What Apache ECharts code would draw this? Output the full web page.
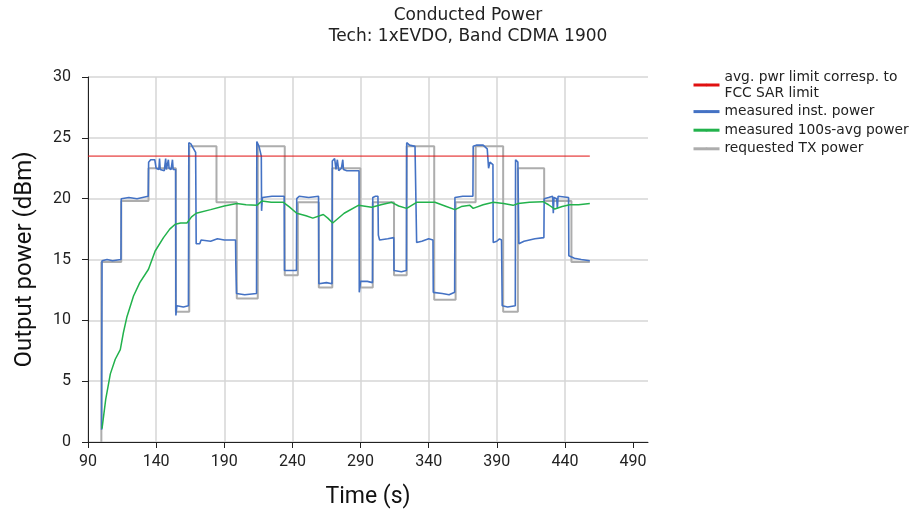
<!DOCTYPE html>
<html>
<head>
<meta charset="utf-8">
<script src="https://cdn.jsdelivr.net/npm/echarts@6/dist/echarts.min.js"></script>
<style>
html, body { margin: 0; padding: 0; background: #fff; }
#chart { width: 911px; height: 514px; }
</style>
</head>
<body>
<div id="chart"></div>
<script>
// tick labels
var xTicks = [90, 140, 190, 240, 290, 340, 390, 440, 490];

// avg. pwr limit
var limitPts = [[90, 23.5], [458.3, 23.5]];

// requested TX power (step)
var requested = [
    [99.8, 0], [99.8, 14.8], [114.4, 14.8], [114.4, 19.8], [134.4, 19.8], [134.4, 22.5],
    [154.5, 22.5], [154.5, 10.7], [164.3, 10.7], [164.3, 24.3], [184.3, 24.3], [184.3, 19.7],
    [199.2, 19.7], [199.2, 11.8], [214.6, 11.8], [214.6, 24.3], [234.4, 24.3], [234.4, 13.7],
    [244, 13.7], [244, 19.7], [259.4, 19.7], [259.4, 12.7], [269.3, 12.7], [269.3, 22.5],
    [289.9, 22.5], [289.9, 12.7], [299, 12.7], [299, 19.7], [314.6, 19.7], [314.6, 13.7],
    [323.9, 13.7], [323.9, 24.3], [344.1, 24.3], [344.1, 11.7], [359.8, 11.7], [359.8, 19.7],
    [374.5, 19.7], [374.5, 24.3], [394.7, 24.3], [394.7, 10.7], [405.5, 10.7], [405.5, 22.5],
    [424.8, 22.5], [424.8, 19.8], [444.8, 19.8], [444.8, 14.8], [458.3, 14.8]
];

// measured inst. power
var measured = [
    [100.0, 1.0], [100.3, 14.9], [104, 15.0], [108, 14.9], [114.2, 15.0], [114.4, 20.0],
    [120, 20.1], [126, 20.0], [130, 20.1], [134.2, 20.2], [134.5, 23.0], [136, 23.2],
    [139, 23.2], [140, 22.5], [142, 22.4], [142.5, 23.3], [143, 22.4], [146, 22.3],
    [147, 23.3], [147.5, 22.4], [149, 23.2], [149.5, 22.5], [151, 22.4], [152, 23.2],
    [152.5, 22.4], [154.3, 22.4], [154.5, 10.4], [155.2, 11.2], [160, 11.1], [163.7, 11.2],
    [164, 24.6], [165.5, 24.5], [167, 24.2], [169, 23.8], [169.4, 16.3], [172, 16.3],
    [173, 16.6], [180, 16.5], [185, 16.7], [190, 16.6], [198.3, 16.6], [198.5, 14.6],
    [199, 12.2], [205, 12.1], [213.7, 12.2], [213.9, 24.7], [215.5, 24.3], [217.2, 23.5],
    [217.4, 19.0], [218, 20.1], [225, 20.2], [234, 20.2], [234.2, 14.1], [240, 14.1],
    [243.0, 14.1], [243.2, 20.0], [245, 20.2], [252, 20.1], [259.2, 20.2], [259.4, 13.0],
    [265, 13.1], [269.1, 13.0], [269.3, 23.1], [271, 23.3], [272, 22.4], [273, 23.2],
    [274, 22.3], [276, 22.5], [277, 23.2], [277.5, 22.4], [280, 22.3], [285, 22.3],
    [288.9, 22.3], [289.1, 12.3], [290, 13.2], [295, 13.2], [298.8, 13.1], [299, 20.1],
    [301, 20.2], [302.8, 20.2], [303.1, 17.0], [304, 16.6], [310, 16.7], [314.4, 16.8],
    [314.6, 14.1], [320, 14.0], [323.7, 14.1], [323.9, 24.6], [326, 24.4], [330, 24.3],
    [331.0, 24.2], [331.2, 16.4], [335, 16.5], [340, 16.7], [343.2, 16.6], [343.4, 12.3],
    [350, 12.2], [355, 12.1], [359.1, 12.3], [359.3, 20.1], [365, 20.2], [372.5, 20.2],
    [372.7, 24.3], [375, 24.4], [380, 24.4], [383, 24.1], [384, 22.5], [385, 23.0],
    [387.2, 22.8], [387.4, 16.4], [390, 16.5], [392, 16.7], [393.5, 16.6], [394, 11.2],
    [398, 11.1], [403.6, 11.2], [403.8, 23.2], [405.5, 23.0], [406.2, 16.3], [410, 16.5],
    [418, 16.7], [424.6, 16.8], [424.8, 20.0], [428, 20.1], [431, 20.2], [431.5, 18.8],
    [432, 20.1], [434, 20.0], [434.5, 19.2], [435, 20.2], [442.7, 20.1], [442.9, 15.3],
    [447, 15.1], [452, 15.0], [458.3, 14.9]
];

// measured 100s-avg power
var average = [
    [100.3, 1.1], [103, 3.5], [106.4, 5.6], [110, 6.8], [113.7, 7.6], [116, 9.0],
    [118.6, 10.3], [123.4, 12.0], [128, 13.1], [134.4, 14.2], [139.3, 15.7], [145.4, 16.8],
    [150, 17.5], [154, 17.9], [158, 18.0], [162.6, 18.0], [166, 18.5], [169.4, 18.8],
    [180, 19.1], [190, 19.4], [199.2, 19.6], [206, 19.5], [213.9, 19.45], [217.6, 19.8],
    [224.5, 19.7], [233.4, 19.7], [238, 19.3], [243.2, 18.8], [250, 18.6], [255, 18.4],
    [262.7, 18.7], [266, 18.4], [269.6, 18.0], [278, 18.8], [288.4, 19.45], [298.2, 19.3],
    [305, 19.5], [312.9, 19.7], [318, 19.4], [323.9, 19.2], [331.2, 19.7], [338, 19.7],
    [344.6, 19.7], [352, 19.4], [359.3, 19.1], [364, 19.35], [370.3, 19.45], [372.7, 19.2],
    [380, 19.5], [387.4, 19.7], [395, 19.6], [402, 19.45], [405.7, 19.6], [414, 19.7],
    [424, 19.75], [428, 19.5], [432.6, 19.15], [438, 19.35], [443.6, 19.5], [450, 19.5],
    [458.3, 19.6]
];

var chart = echarts.init(document.getElementById('chart'));
var font = 'DejaVu Sans';
var axisFont = 'Roboto';

var option = {
    backgroundColor: '#fff',
    animation: false,
    title: {
        text: 'Conducted Power\nTech: 1xEVDO, Band CDMA 1900',
        left: 463,
        top: 0,
        textAlign: 'center',
        textStyle: {
            fontFamily: font,
            fontWeight: 'normal',
            fontSize: 17,
            lineHeight: 21,
            color: '#222'
        }
    },
    legend: {
        orient: 'vertical',
        left: 692,
        top: 69,
        padding: 0,
        itemGap: 2.6,
        itemWidth: 26,
        itemHeight: 3,
        lineStyle: { width: 3 },
        textStyle: { fontFamily: font, fontSize: 13.8, lineHeight: 16, color: '#222' },
        data: [
            'avg. pwr limit corresp. to\nFCC SAR limit',
            'measured inst. power',
            'measured 100s-avg power',
            'requested TX power'
        ]
    },
    grid: {
        left: 88,
        right: 263,
        top: 77,
        bottom: 72
    },
    xAxis: {
        type: 'value',
        min: 90,
        max: 501,
        interval: 50,
        name: 'Time (s)',
        nameLocation: 'middle',
        nameGap: 44,
        nameTextStyle: { fontFamily: axisFont, fontSize: 23, color: '#111' },
        axisLine: { lineStyle: { color: '#222', width: 1 } },
        axisTick: { length: 6, lineStyle: { color: '#222' }, customValues: xTicks },
        axisLabel: { fontFamily: axisFont, fontSize: 16, color: '#222', margin: 12, customValues: xTicks },
        splitLine: { show: true, showMaxLine: false, lineStyle: { color: '#d6d6d6', width: 1.5 } }
    },
    yAxis: {
        type: 'value',
        min: 0,
        max: 30,
        interval: 5,
        name: 'Output power (dBm)',
        nameLocation: 'middle',
        nameGap: 51,
        nameTextStyle: { fontFamily: axisFont, fontSize: 24, color: '#111' },
        axisLine: { show: true, lineStyle: { color: '#222', width: 1 } },
        axisTick: { show: true, length: 6, lineStyle: { color: '#222' } },
        axisLabel: { fontFamily: axisFont, fontSize: 16, color: '#222', margin: 17 },
        splitLine: { show: true, lineStyle: { color: '#d6d6d6', width: 1.5 } }
    },
    series: [
        {
            name: 'avg. pwr limit corresp. to\nFCC SAR limit',
            type: 'line',
            data: limitPts,
            symbol: 'none',
            z: 5,
            lineStyle: { color: '#e01010', width: 1 },
            itemStyle: { color: '#e01010' }
        },
        {
            name: 'measured inst. power',
            type: 'line',
            data: measured,
            symbol: 'none',
            z: 3,
            lineStyle: { color: '#4472c4', width: 1.6 },
            itemStyle: { color: '#4472c4' }
        },
        {
            name: 'measured 100s-avg power',
            type: 'line',
            data: average,
            symbol: 'none',
            z: 4,
            lineStyle: { color: '#22b24c', width: 1.5 },
            itemStyle: { color: '#22b24c' }
        },
        {
            name: 'requested TX power',
            type: 'line',
            data: requested,
            symbol: 'none',
            z: 2,
            lineStyle: { color: '#adadad', width: 2 },
            itemStyle: { color: '#adadad' }
        }
    ]
};
chart.setOption(option);

window.addEventListener('resize', function() {
    chart.resize();
});
</script>
</body>
</html>
